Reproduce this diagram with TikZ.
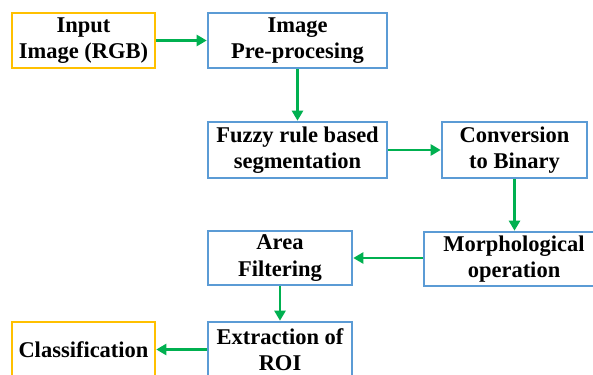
\documentclass[tikz,border=0pt]{standalone}
\usepackage{fontspec}
\setmainfont{Liberation Serif}
\usetikzlibrary{arrows.meta}
\definecolor{boxorange}{HTML}{FFC000}
\definecolor{boxblue}{HTML}{5B9BD5}
\definecolor{arrgreen}{HTML}{00B050}
\tikzset{
  base/.style={draw, line width=2.6pt, inner sep=0pt, align=center,
    font=\fontsize{22.5}{26.5}\selectfont\bfseries, fill=white},
  obox/.style={base, draw=boxorange},
  bbox/.style={base, draw=boxblue},
  arr/.style={draw=arrgreen, line width=2.4pt, -{Triangle[length=10pt,width=11pt]}}
}
\begin{document}
\begin{tikzpicture}[x=1pt,y=-1pt]
\clip (0,0) rectangle (593,374);
\fill[white] (0,0) rectangle (593,374);
\node[obox, minimum width=143pt, minimum height=55pt] (in) at (83.5,40.5) {Input\\Image (RGB)};
\node[bbox, minimum width=179pt, minimum height=55pt] (pre) at (297.5,40.5) {Image\\Pre-procesing};
\node[bbox, minimum width=179pt, minimum height=56pt] (fz) at (297.5,150) {Fuzzy rule based\\segmentation};
\node[bbox, minimum width=145pt, minimum height=56pt] (cb) at (514.5,150) {Conversion\\to Binary};
\node[bbox, minimum width=180pt, minimum height=54pt] (mo) at (514,259) {Morphological\\operation};
\node[bbox, minimum width=144pt, minimum height=54pt] (af) at (280,258) {Area\\Filtering};
\node[bbox, minimum width=144pt, minimum height=55pt] (ex) at (280,349.5) {Extraction of\\ROI};
\node[obox, minimum width=143pt, minimum height=55pt] (cl) at (83.5,349.5) {Classification};
\draw[arr] (in) -- (pre);
\draw[arr] (pre.south -| fz) -- (fz.north);
\draw[arr] (fz) -- (cb);
\draw[arr] (cb) -- (cb |- mo.north);
\draw[arr] (mo.west |- af) -- (af.east);
\draw[arr] (af) -- (ex);
\draw[arr] (ex) -- (cl);
\end{tikzpicture}
\end{document}
